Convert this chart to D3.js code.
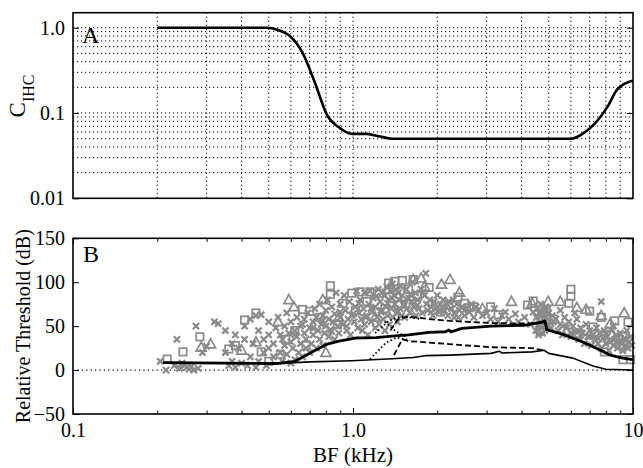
<!DOCTYPE html>
<html>
<head>
<meta charset="utf-8">
<script src="https://cdn.jsdelivr.net/npm/d3@7"></script>
<style>
  body { margin: 0; background: #fff; }
  svg { display: block; }
  svg text { font-family: "Liberation Serif", "Times New Roman", "DejaVu Serif", serif !important; }
</style>
</head>
<body>
<div id="chart"></div>
<script>
// ---- panel A : C_IHC vs BF ----
var cihcFreq = [0.2, 0.49, 0.54, 0.595, 0.66, 0.73, 0.81, 0.89, 0.99, 1.12, 1.25, 1.38, 6.0, 6.6, 7.3, 8.1, 8.8, 10];
var cihcVal  = [1, 1, 0.94, 0.8, 0.51, 0.23, 0.093, 0.068, 0.057, 0.057, 0.053, 0.05, 0.05, 0.057, 0.075, 0.118, 0.19, 0.24];

// ---- panel B : model threshold curves ----
var thickFreq = [0.21, 0.54, 0.62, 0.70, 0.81, 0.89, 1.02, 1.21, 1.38, 1.58, 1.87, 2.14, 2.2, 2.24, 2.45, 3.11, 4.08, 4.74, 4.85, 4.92, 5.7, 6.5, 7.5, 8.3, 9.2, 10];
var thickDb   = [8.5, 7.5, 10, 19, 29.6, 33, 36.5, 37, 38.6, 40, 43, 43.6, 45.7, 43.5, 47.5, 50, 51, 54.6, 56, 46, 40, 33, 24, 17, 13.6, 12];
var thinFreq  = [0.21, 0.54, 0.70, 0.99, 1.38, 1.64, 1.81, 2.22, 3.11, 3.33, 3.4, 4.36, 4.82, 5.0, 6.1, 7.2, 8.0, 10];
var thinDb    = [8.5, 7.5, 9.3, 10.7, 12.9, 14.3, 16.4, 17, 19, 21.5, 19.5, 20.7, 22.5, 19, 13.6, 4.6, 1, 0];
var dashUpFreq = [1.36, 1.45, 1.58, 1.87, 2.22, 3.1, 4.36, 4.8];
var dashUpDb   = [45, 58, 61, 58, 56, 53.5, 53, 55];
var dashLoFreq = [1.40, 1.50, 1.58, 2.2, 3.1, 4.36, 4.8];
var dashLoDb   = [17, 35, 33, 29.6, 26, 25, 22.5];
var dotUpFreq  = [1.2, 1.34, 1.48, 1.6, 1.75];
var dotUpDb    = [42, 56, 61, 60, 58];
var dotLoFreq  = [1.15, 1.31, 1.43, 1.53, 1.6];
var dotLoDb    = [12.5, 31, 37, 35, 34];
var dotXFreq   = [1.3, 1.42, 1.55];
var dotXDb     = [55, 44, 38];

// ---- panel B : measured thresholds (grey symbols) ----
var squareFreq = [0.217, 0.247, 0.284, 0.36, 0.38, 0.41, 0.45, 0.47, 0.575, 0.66, 0.70, 0.83, 0.83, 0.92, 0.99, 1.06, 1.15, 1.24, 1.34, 1.41, 1.50, 1.58, 1.64, 1.87, 1.45, 2.2, 2.37, 2.5, 2.7, 3.1, 4.2, 4.4, 4.8, 4.66, 5.9, 6.0, 6.0, 7.2, 7.7, 8.3, 8.6, 9.2, 9.3, 9.6, 7.9, 9.2, 9.8, 7.0, 0.55, 0.62, 0.76, 0.88, 1.02, 1.12, 1.3, 1.7, 2.05, 2.6, 3.3, 4.9, 5.2, 6.4, 8.9, 0.5, 0.68];
var squareDb   = [12.5, 20.7, 37.9, 24, 28, 57, 65, 20.7, 35, 69, 67, 86, 96, 76, 87.5, 89, 89, 87.5, 99, 101, 102, 92, 103, 94, 74, 74, 83, 76, 72, 72, 74, 78.6, 65, 44, 76, 92, 84, 49, 60, 40, 56, 38.6, 28, 54.6, 20.7, 11.8, 11.8, 67, 18, 45, 60, 52, 68, 78, 70, 84, 66, 71, 63, 68, 58, 40, 35, 10, 28];
var triFreq    = [0.287, 0.31, 0.40, 0.54, 0.59, 0.78, 0.615, 0.89, 1.34, 1.64, 1.75, 2.07, 2.22, 2.4, 1.8, 3.68, 4.36, 4.98, 5.5, 6.3, 6.8, 7.7, 9.3, 8.3, 0.8, 1.58, 0.45, 1.2, 2.9, 5.8];
var triDb      = [26, 29.6, 22.5, 55, 80, 80, 72, 60, 92, 103, 104.6, 97.5, 103, 88.6, 95, 78, 76, 78, 78, 71, 69, 62, 65, 53, 20, 75, 32, 60, 70, 45];
var crossFreq = [
  0.205, 0.215, 0.23, 0.235, 0.24, 0.25, 0.255, 0.26, 0.265, 0.27, 0.275, 0.28, 0.29, 0.30, 0.245,
  0.32, 0.33, 0.35, 0.35, 0.36, 0.37, 0.37, 0.38, 0.38, 0.39, 0.40, 0.41, 0.41, 0.42, 0.43, 0.43, 0.44, 0.45, 0.45, 0.46, 0.46, 0.47, 0.48, 0.48, 0.49, 0.50, 0.50, 0.50,
  0.52, 0.52, 0.53, 0.54, 0.55, 0.55, 0.56, 0.56, 0.57, 0.57, 0.58, 0.58, 0.59, 0.60, 0.60, 0.60, 0.61, 0.62, 0.62, 0.63, 0.63, 0.64, 0.65, 0.65, 0.66, 0.67, 0.67, 0.68, 0.68, 0.69, 0.70, 0.70,
  0.71, 0.72, 0.72, 0.73, 0.74, 0.74, 0.75, 0.76, 0.76, 0.77, 0.78, 0.78, 0.79, 0.80, 0.80, 0.81, 0.82, 0.82, 0.83, 0.84, 0.85, 0.86, 0.86, 0.87, 0.88, 0.89, 0.90, 0.90, 0.92, 0.93, 0.94, 0.95, 0.96, 0.97, 0.98, 0.99,
  1.01, 1.02, 1.03, 1.04, 1.05, 1.06, 1.07, 1.08, 1.09, 1.10, 1.10, 1.12, 1.13, 1.14, 1.15, 1.16, 1.17, 1.18, 1.20, 1.20, 1.22, 1.23, 1.24, 1.25, 1.26, 1.27, 1.28, 1.30, 1.30, 1.31, 1.32, 1.33, 1.34, 1.35, 1.36, 1.37, 1.38, 1.39, 1.40, 1.41, 1.42, 1.43, 1.44, 1.45, 1.46, 1.47, 1.48, 1.49,
  1.50, 1.52, 1.53, 1.55, 1.56, 1.58, 1.60, 1.62, 1.63, 1.65, 1.67, 1.68, 1.70, 1.72, 1.75, 1.77, 1.80, 1.82, 1.83, 1.85, 1.88, 1.90, 1.93, 1.95, 1.98, 2.00, 2.03, 2.05, 2.10, 2.12, 2.15, 2.18, 2.20,
  2.25, 2.30, 2.35, 2.40, 2.45, 2.50, 2.55, 2.60, 2.65, 2.70, 2.80, 2.90, 3.00, 3.10, 3.20, 3.30, 3.40, 3.50, 2.28, 2.38, 2.75,
  3.60, 3.80, 3.90, 4.10, 4.30, 4.40,
  4.50, 4.52, 4.55, 4.58, 4.60, 4.62, 4.65, 4.68, 4.70, 4.72, 4.75, 4.78, 4.80, 4.82, 4.85, 4.88, 4.90, 4.95, 5.00, 5.05, 5.10, 5.15,
  5.3, 5.4, 5.5, 5.6, 5.7, 5.8, 5.9, 6.0, 6.1, 6.2, 6.3, 6.4, 6.5, 6.6, 6.7, 6.8, 6.9, 7.0, 7.1, 7.2, 7.3, 7.4, 7.5, 7.6, 7.7, 7.8, 7.9, 8.0, 8.1, 8.2, 8.3, 8.4, 8.5, 8.6, 8.7, 8.8, 8.9, 9.0, 9.1, 9.2, 9.3, 9.4, 9.5, 9.6, 9.7, 9.8, 9.9, 7.7, 8.5, 6.2, 5.5,
  0.62, 0.66, 0.72, 0.78, 0.84, 0.9, 0.95, 1.0, 1.05, 1.11, 1.16, 1.21, 1.26, 1.33, 1.38, 1.44, 1.52, 1.6, 1.7, 1.78, 1.9, 2.0, 2.1, 2.3, 2.5, 4.6, 4.7, 4.9, 5.2, 5.6, 6.0, 6.5, 7.0, 7.5, 8.0, 8.8, 9.4
];
var crossDb = [
  10, 0, 5, 35, 2, 5, 3, 1, 4, 0, 50, 2, 20, 27, 8,
  55, 53, 45, 20, 5, 10, 30, 40, 3, 25, 8, 35, 50, 5, 15, 58, 30, 62, 3, 10, 45, 63, 35, 20, 5, 40, 25, 55,
  15, 30, 48, 60, 20, 40, 10, 35, 28, 50, 65, 18, 42, 8, 32, 55, 25, 45, 12, 38, 60, 20, 50, 30, 15, 42, 58, 25, 35, 65, 48, 20,
  30, 55, 40, 70, 25, 60, 45, 35, 75, 52, 62, 28, 42, 68, 50, 80, 38, 58, 46, 72, 55, 35, 64, 88, 50, 42, 75, 60, 52, 85, 68, 45, 58, 78, 40, 62,
  55, 72, 90, 48, 65, 80, 58, 45, 70, 88, 52, 62, 40, 75, 90, 55, 66, 82, 48, 72, 60, 92, 52, 78, 68, 88, 58, 85, 45, 72, 95, 62, 80, 52, 90, 70, 98, 60, 85, 75, 92, 65, 55, 88, 80, 70, 95, 62,
  85, 75, 60, 92, 70, 82, 65, 78, 100, 72, 88, 62, 80, 70, 92, 65, 85, 110, 75, 68, 80, 72, 62, 78, 70, 85, 66, 75, 80, 68, 72, 62, 78,
  70, 65, 75, 68, 72, 62, 70, 66, 75, 60, 68, 62, 65, 58, 70, 55, 62, 66, 80, 60, 72,
  58, 64, 55, 60, 52, 66,
  45, 60, 70, 50, 40, 65, 55, 75, 48, 62, 42, 58, 68, 52, 45, 72, 60, 50, 65, 55, 48, 62,
  58, 45, 52, 40, 60, 48, 55, 38, 50, 44, 58, 35, 48, 42, 30, 52, 38, 45, 28, 40, 35, 48, 30, 42, 25, 36, 45, 30, 38, 22, 32, 45, 28, 35, 40, 25, 33, 42, 30, 22, 36, 28, 45, 25, 32, 38, 28, 78, 50, 65, 68,
  40, 52, 48, 56, 44, 66, 50, 64, 76, 60, 70, 84, 66, 76, 82, 68, 78, 86, 74, 88, 66, 72, 70, 60, 68, 52, 62, 48, 55, 50, 42, 40, 38, 36, 42, 30, 35
];

var W = 643, H = 468;
var left = 73, right = 633;
var topA = 12.7, botA = 198.3;
var topB = 238.3, botB = 414;
var serif = "'Liberation Serif', 'Times New Roman', serif";
var grey = "#8a8a8a";

var svg = d3.select("#chart").append("svg")
    .attr("width", W)
    .attr("height", H)
    .attr("font-family", serif);

var x = d3.scaleLog().domain([0.1, 10]).range([left, right]);
var yA = d3.scaleLog().domain([0.01, 1.5]).range([botA, topA]);
var yB = d3.scaleLinear().domain([-50, 150]).range([botB, topB]);

var xMajor = [0.1, 1, 10];
var xMinor = [];
[0.1, 1].forEach(function (d) {
    for (var k = 2; k <= 9; k++) xMinor.push(d * k);
});
var yAMajor = [0.01, 0.1, 1];
var yAMinor = [];
[0.01, 0.1, 1].forEach(function (d) {
    for (var k = 2; k <= 9; k++) { if (d * k < 1.5) yAMinor.push(d * k); }
});

// ---------------- panel A ----------------
var gA = svg.append("g");
var gridV = xMinor.concat([1]);
gA.selectAll(".vgrid").data(gridV).enter().append("line")
    .attr("x1", function (d) { return x(d); })
    .attr("x2", function (d) { return x(d); })
    .attr("y1", topA).attr("y2", botA)
    .attr("stroke", "#000").attr("stroke-width", 1)
    .attr("stroke-dasharray", "1.2,2.8");
var gridH = yAMinor.concat([0.1, 1]);
gA.selectAll(".hgrid").data(gridH).enter().append("line")
    .attr("x1", left).attr("x2", right)
    .attr("y1", function (d) { return yA(d); })
    .attr("y2", function (d) { return yA(d); })
    .attr("stroke", "#000").attr("stroke-width", 1)
    .attr("stroke-dasharray", "1.2,2.8");

var cihc = cihcFreq.map(function (f, i) { return [f, cihcVal[i]]; });
gA.append("path")
    .datum(cihc)
    .attr("fill", "none")
    .attr("stroke", "#000")
    .attr("stroke-width", 2.6)
    .attr("d", d3.line()
        .x(function (d) { return x(d[0]); })
        .y(function (d) { return yA(d[1]); })
        .curve(d3.curveMonotoneX));

// axes A
function axisStyle(g) {
    g.attr("font-family", serif);
    g.select(".domain").remove();
    g.selectAll("line").attr("stroke", "#000").attr("stroke-width", 1);
    g.selectAll("text").style("font-size", "20px").attr("fill", "#000");
}
gA.append("g").attr("transform", "translate(" + left + ",0)")
    .call(d3.axisLeft(yA).tickValues(yAMajor).tickSizeInner(-6).tickSizeOuter(0).tickPadding(8)
        .tickFormat(function (d) { return d === 1 ? "1.0" : d === 0.1 ? "0.1" : "0.01"; }))
    .call(axisStyle);
gA.append("g").attr("transform", "translate(" + right + ",0)")
    .call(d3.axisRight(yA).tickValues(yAMajor).tickSizeInner(-6).tickSizeOuter(0).tickFormat(""))
    .call(axisStyle);
gA.append("rect")
    .attr("x", left).attr("y", topA)
    .attr("width", right - left).attr("height", botA - topA)
    .attr("fill", "none").attr("stroke", "#000").attr("stroke-width", 1.6);
gA.append("text")
    .attr("x", 82).attr("y", 43)
    .style("font-size", "24px")
    .text("A");
var lblA = gA.append("text")
    .attr("transform", "translate(25,96) rotate(-90)")
    .attr("text-anchor", "middle")
    .style("font-size", "23px");
lblA.append("tspan").text("C");
lblA.append("tspan").attr("dy", 9).style("font-size", "16px").text("IHC");

// ---------------- panel B ----------------
var gB = svg.append("g");

gB.append("line")
    .attr("x1", left).attr("x2", right)
    .attr("y1", yB(0)).attr("y2", yB(0))
    .attr("stroke", "#000").attr("stroke-width", 1.2)
    .attr("stroke-dasharray", "1.2,3.2");

// measured symbols
var pts = gB.append("g")
    .attr("fill", "none")
    .attr("stroke", grey);
pts.selectAll(".cr").data(crossFreq).enter().append("path")
    .attr("d", function (d, i) {
        var cx = x(d), cy = yB(crossDb[i]), r = 3.1;
        return "M" + (cx - r) + "," + (cy - r) + "L" + (cx + r) + "," + (cy + r) +
            "M" + (cx - r) + "," + (cy + r) + "L" + (cx + r) + "," + (cy - r);
    })
    .attr("stroke-width", 2.2);
pts.selectAll(".sq").data(squareFreq).enter().append("rect")
    .attr("x", function (d) { return x(d) - 3.7; })
    .attr("y", function (d, i) { return yB(squareDb[i]) - 3.7; })
    .attr("width", 7.4).attr("height", 7.4)
    .attr("stroke-width", 1.7);
pts.selectAll(".tri").data(triFreq).enter().append("path")
    .attr("d", function (d, i) {
        var cx = x(d), cy = yB(triDb[i]);
        return "M" + cx + "," + (cy - 5.2) + "L" + (cx + 5) + "," + (cy + 3.8) + "L" + (cx - 5) + "," + (cy + 3.8) + "Z";
    })
    .attr("stroke-width", 1.7);

// model curves
var lineB = d3.line()
    .x(function (d) { return x(d[0]); })
    .y(function (d) { return yB(d[1]); });
function drawCurve(fr, db, width, dash) {
    gB.append("path")
        .datum(fr.map(function (f, i) { return [f, db[i]]; }))
        .attr("fill", "none")
        .attr("stroke", "#000")
        .attr("stroke-width", width)
        .attr("stroke-dasharray", dash)
        .attr("stroke-linejoin", "round")
        .attr("d", lineB);
}
drawCurve(thinFreq, thinDb, 1.6, null);
drawCurve(dashUpFreq, dashUpDb, 1.8, "6,3");
drawCurve(dashLoFreq, dashLoDb, 1.8, "6,3");
drawCurve(dotUpFreq, dotUpDb, 1.8, "1.5,2.5");
drawCurve(dotLoFreq, dotLoDb, 1.8, "1.5,2.5");
drawCurve(dotXFreq, dotXDb, 1.8, "1.5,2.5");
drawCurve(thickFreq, thickDb, 2.8, null);

// axes B
gB.append("g").attr("transform", "translate(0," + botB + ")")
    .call(d3.axisBottom(x).tickValues(xMinor).tickSizeInner(-3.5).tickSizeOuter(0).tickFormat(""))
    .call(axisStyle);
gB.append("g").attr("transform", "translate(0," + botB + ")")
    .call(d3.axisBottom(x).tickValues(xMajor).tickSizeInner(-6).tickSizeOuter(0).tickPadding(9)
        .tickFormat(function (d) { return d === 0.1 ? "0.1" : d === 1 ? "1.0" : "10"; }))
    .call(axisStyle);
gB.append("g").attr("transform", "translate(0," + topB + ")")
    .call(d3.axisTop(x).tickValues(xMinor).tickSizeInner(-3.5).tickSizeOuter(0).tickFormat(""))
    .call(axisStyle);
gB.append("g").attr("transform", "translate(0," + topB + ")")
    .call(d3.axisTop(x).tickValues(xMajor).tickSizeInner(-6).tickSizeOuter(0).tickFormat(""))
    .call(axisStyle);
gB.append("g").attr("transform", "translate(" + left + ",0)")
    .call(d3.axisLeft(yB).tickValues([-50, 0, 50, 100, 150]).tickSizeInner(-6).tickSizeOuter(0).tickPadding(8)
        .tickFormat(function (d) { return d < 0 ? "\u2212" + Math.abs(d) : d; }))
    .call(axisStyle);
gB.append("g").attr("transform", "translate(" + right + ",0)")
    .call(d3.axisRight(yB).tickValues([-50, 0, 50, 100, 150]).tickSizeInner(-6).tickSizeOuter(0).tickFormat(""))
    .call(axisStyle);
gB.append("rect")
    .attr("x", left).attr("y", topB)
    .attr("width", right - left).attr("height", botB - topB)
    .attr("fill", "none").attr("stroke", "#000").attr("stroke-width", 1.6);
gB.append("text")
    .attr("x", 83).attr("y", 262)
    .style("font-size", "24px")
    .text("B");
gB.append("text")
    .attr("transform", "translate(30," + ((topB + botB) / 2) + ") rotate(-90)")
    .attr("text-anchor", "middle")
    .style("font-size", "20px")
    .text("Relative Threshold (dB)");
gB.append("text")
    .attr("x", (left + right) / 2).attr("y", 462)
    .attr("text-anchor", "middle")
    .style("font-size", "21px")
    .text("BF (kHz)");
</script>
</body>
</html>
